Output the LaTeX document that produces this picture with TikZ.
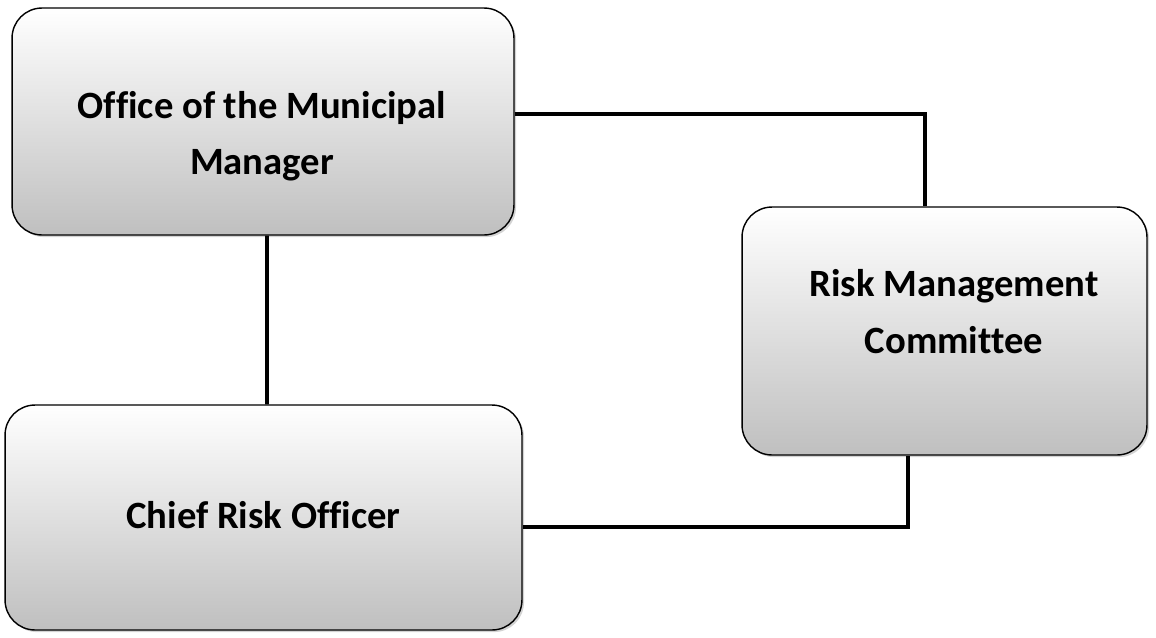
\documentclass[tikz,border=0pt]{standalone}
\usepackage{fontspec}
\setmainfont{Carlito}[Ligatures = CommonOff]
\usetikzlibrary{shadows}

\tikzset{
  box/.style = {draw, thick, rounded corners = 0.6cm, top color = white, middle color = gray!6, bottom color = gray!50, drop shadow = {shadow xshift = 1.2pt, shadow yshift = -1.2pt, opacity = 0.35}},
  boxtext/.style = {align = center, font = \fontsize{22}{32}\selectfont\bfseries},
  link/.style = {line width = 2.2pt}
}

\begin{document}
\begin{tikzpicture}[x = 0.02cm, y = -0.02cm]
\useasboundingbox (0,0) rectangle (1156,637);
\node[box, minimum width = 10.04cm, minimum height = 4.54cm] (omm) at (263,121.5) {};
\node[box, minimum width = 10.34cm, minimum height = 4.5cm] (cro) at (263.5,517.5) {};
\node[box, minimum width = 8.1cm, minimum height = 4.96cm] (rmc) at (944.5,331) {};
\node[boxtext] (ommtext) at (262,136) {Office of the Municipal\\Manager};
\node[boxtext, anchor = base] (crotext) at (263.5,528) {Chief Risk Officer};
\node[boxtext] (rmctext) at (954,311.5) {Risk Management\\Committee};
\draw[link] ([yshift = 0.15cm]omm.east) -| ([xshift = -0.39cm]rmc.north);
\draw[link] ([yshift = -0.19cm]cro.east) -| ([xshift = -0.73cm]rmc.south);
\draw[link] ([xshift = 0.08cm]omm.south) -- ([xshift = 0.07cm]cro.north);
\end{tikzpicture}
\end{document}
